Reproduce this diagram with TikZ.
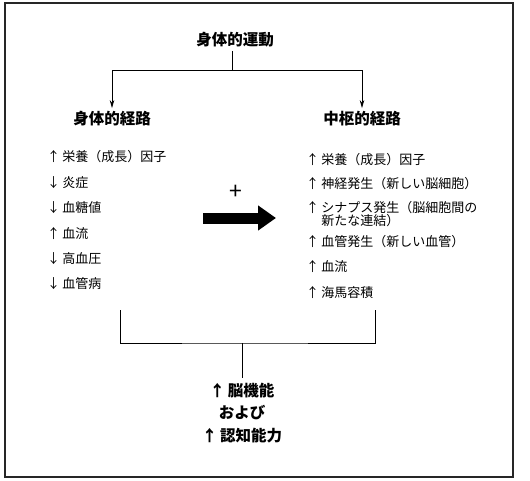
\documentclass[tikz,border=0pt]{standalone}
\usepackage{fontspec}
\newfontfamily\jpfont{Noto Sans CJK JP}
\usetikzlibrary{arrows.meta}

\begin{document}
\begin{tikzpicture}[
    x=1pt, y=-1pt,  % 1単位 = 1px（下向き）
    >={Stealth[length=8pt, width=4.5pt]},
    heading/.style={font=\jpfont\bfseries\fontsize{15.5}{23.5}\selectfont, align=center},
    item/.style={anchor=west, inner sep=1pt, align=left, font=\jpfont\fontsize{13}{13.5}\selectfont},
    link/.style={line width=0.8pt}
]
    % --- 枠 ---
    \useasboundingbox (0,0) rectangle (530,480);
    \draw[line width=1.3pt, black!85] (5,3) rectangle (513,477);

    % --- 見出し ---
    \node[heading] (exercise) at (235,40) {身体的運動};
    \node[heading] (body) at (112,119) {身体的経路};
    \node[heading] (central) at (362,119) {中枢的経路};

    % --- 分岐 ---
    \coordinate (split) at (232,70);
    \draw[link] (exercise.south -| split) -- (split);
    \draw[link, ->] (split) -| (body);
    \draw[link, ->] (split) -| (central);

    % --- 身体的経路の項目 ---
    \foreach \t [count=\i] in {↑\,栄養（成長）因子, ↓\,炎症, ↓\,血糖値, ↑\,血流, ↓\,高血圧, ↓\,血管病} {
        \node[item] (b\i) at (46, {157+(\i-1)*25.4}) {\t};
    }

    % --- 中枢的経路の項目 ---
    \foreach \y/\t [count=\i] in {
        160/{↑\,栄養（成長）因子},
        184/{↑\,神経発生（新しい脳細胞）},
        214/{↑\,シナプス発生（脳細胞間の\\\hphantom{↑\,}新たな連結）},
        242/{↑\,血管発生（新しい血管）},
        267/{↑\,血流},
        293/{↑\,海馬容積}} {
        \node[item] (c\i) at (305, \y) {\t};
    }

    % --- 中央の矢印 ---
    \node[font=\jpfont\fontsize{23}{23}\selectfont] (plus) at (236,192) {+};
    \coordinate (a0) at (203,218);
    \coordinate (a1) at (276,218);
    \draw[line width=11pt, -{Triangle[length=18pt, width=24pt]}] (a0) -- (a1);

    % --- 合流 ---
    \coordinate (bl) at (120,310);
    \coordinate (br) at (375,310);
    \coordinate (merge) at (242,343);
    \node[heading, inner sep=5pt, font=\jpfont\bfseries\fontsize{15.5}{22.5}\selectfont] (result) at (242,413) {↑\,脳機能\\および\\↑\,認知能力};
    \draw[link] (bl) |- (merge) -| (br);
    \draw[link] (merge) -- (result);
\end{tikzpicture}
\end{document}
